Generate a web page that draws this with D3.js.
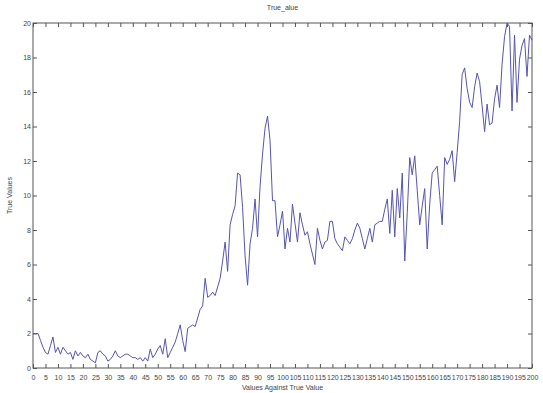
<!DOCTYPE html>
<html>
<head>
<meta charset="utf-8">
<script src="https://cdn.jsdelivr.net/npm/d3@7"></script>
<style>
  body { margin: 0; background: #fff; }
  svg { display: block; }
  .tick text { font-family: "Liberation Sans Narrow", "Liberation Sans", sans-serif; font-size: 7px; fill: #444; }
  .lbl { font-family: "Liberation Sans Narrow", "Liberation Sans", sans-serif; font-size: 7px; fill: #444; }
</style>
</head>
<body>
<div class="container"></div>
<script>
// sample values, x = 0..200
const trueValues = [
  2.0, 2.0, 2.0, 1.6, 1.2, 0.9, 0.8, 1.3, 1.8, 0.9,
  1.2, 0.8, 1.2, 1.0, 0.8, 0.9, 0.5, 1.0, 0.7, 0.9,
  0.7, 0.6, 0.8, 0.5, 0.4, 0.3, 0.9, 1.0, 0.8, 0.7,
  0.4, 0.5, 0.7, 1.0, 0.7, 0.6, 0.7, 0.8, 0.8, 0.7,
  0.6, 0.6, 0.5, 0.6, 0.4, 0.6, 0.4, 1.1, 0.6, 0.8,
  1.1, 1.3, 0.8, 1.7, 0.6, 0.9, 1.2, 1.5, 2.0, 2.5,
  1.6, 0.95, 2.3, 2.4, 2.5, 2.4, 2.9, 3.4, 3.6, 5.2,
  4.1, 4.2, 4.4, 4.2, 4.7, 5.2, 6.2, 7.3, 5.6, 8.3,
  8.9, 9.4, 11.3, 11.2, 9.3, 6.5, 4.8, 7.2, 8.1, 9.8,
  7.6, 10.5, 12.4, 13.9, 14.6, 13.2, 9.7, 9.7, 7.6, 8.3,
  9.1, 6.9, 8.1, 7.3, 9.5, 8.4, 7.3, 9.0, 8.3, 7.7,
  7.9, 7.2, 6.6, 6.0, 8.1, 7.4, 6.9, 7.3, 7.4, 8.5,
  8.5, 7.5, 7.2, 7.0, 6.8, 7.6, 7.4, 7.2, 7.5, 8.0,
  8.4, 8.1, 7.5, 6.9, 7.5, 8.1, 7.3, 8.3, 8.4, 8.5,
  8.5, 9.2, 9.8, 7.8, 10.3, 7.6, 10.4, 8.7, 11.3, 6.2,
  9.0, 12.2, 11.2, 12.3, 10.3, 8.3, 9.4, 10.4, 6.9, 9.5,
  11.3, 11.5, 11.7, 10.0, 8.3, 12.2, 11.8, 12.1, 12.6, 10.8,
  12.5, 14.3, 17.0, 17.4, 16.2, 15.4, 15.1, 16.3, 17.1, 16.6,
  15.2, 13.7, 15.3, 14.1, 14.2, 15.6, 16.4, 15.1, 17.6, 19.2,
  20.0, 19.8, 14.9, 19.3, 15.4, 17.9, 18.7, 19.1, 16.9, 19.3,
  19.0
];
const xTicks = d3.range(0, 201, 5);
const yTicks = d3.range(0, 21, 2);

const title = "True_alue";
const xTitle = "Values Against True Value";
const yTitle = "True Values";

const w = 543, h = 393;
const margin = {top: 23, right: 11, bottom: 25, left: 33};

const svg = d3.select('.container')
    .append('svg')
    .attr('width', w)
    .attr('height', h);

const x = d3.scaleLinear().domain([0, 200]).range([margin.left, w - margin.right]);
const y = d3.scaleLinear().domain([0, 20]).range([h - margin.bottom, margin.top]);

const tick = 4;

// box
svg.append('rect')
    .attr('x', x(0)).attr('y', y(20))
    .attr('width', x(200) - x(0)).attr('height', y(0) - y(20))
    .attr('fill', 'none').attr('stroke', '#555').attr('stroke-width', 1);

// inward ticks on all four sides
svg.append('g')
    .attr('transform', `translate(0,${y(0)})`)
    .call(d3.axisBottom(x).tickValues(xTicks).tickSize(-tick).tickPadding(tick + 3).tickSizeOuter(0))
    .call(g => g.select('.domain').remove());
svg.append('g')
    .attr('transform', `translate(0,${y(20)})`)
    .call(d3.axisTop(x).tickValues(xTicks).tickSize(-tick).tickFormat('').tickSizeOuter(0))
    .call(g => g.select('.domain').remove());
svg.append('g')
    .attr('transform', `translate(${x(0)},0)`)
    .call(d3.axisLeft(y).tickValues(yTicks).tickSize(-tick).tickPadding(2 + 0).tickSizeOuter(0))
    .call(g => g.select('.domain').remove())
    .call(g => g.selectAll('.tick text').attr('x', -2));
svg.append('g')
    .attr('transform', `translate(${x(200)},0)`)
    .call(d3.axisRight(y).tickValues(yTicks).tickSize(-tick).tickFormat('').tickSizeOuter(0))
    .call(g => g.select('.domain').remove());

svg.selectAll('.tick line').attr('stroke', '#555');

// data line
const line = d3.line()
    .x((d, i) => x(i))
    .y(d => y(d));

svg.append('path')
    .datum(trueValues)
    .attr('fill', 'none')
    .attr('stroke', '#5555b0')
    .attr('stroke-width', 1)
    .attr('stroke-linejoin', 'round')
    .attr('d', line);

// titles
svg.append('text').attr('class', 'lbl')
    .attr('x', (x(0) + x(200)) / 2).attr('y', 10)
    .attr('text-anchor', 'middle').text(title);
svg.append('text').attr('class', 'lbl')
    .attr('x', (x(0) + x(200)) / 2).attr('y', 390)
    .attr('text-anchor', 'middle').text(xTitle);
svg.append('text').attr('class', 'lbl')
    .attr('transform', `translate(12,${(y(0) + y(20)) / 2}) rotate(-90)`)
    .attr('text-anchor', 'middle').text(yTitle);
</script>
</body>
</html>
